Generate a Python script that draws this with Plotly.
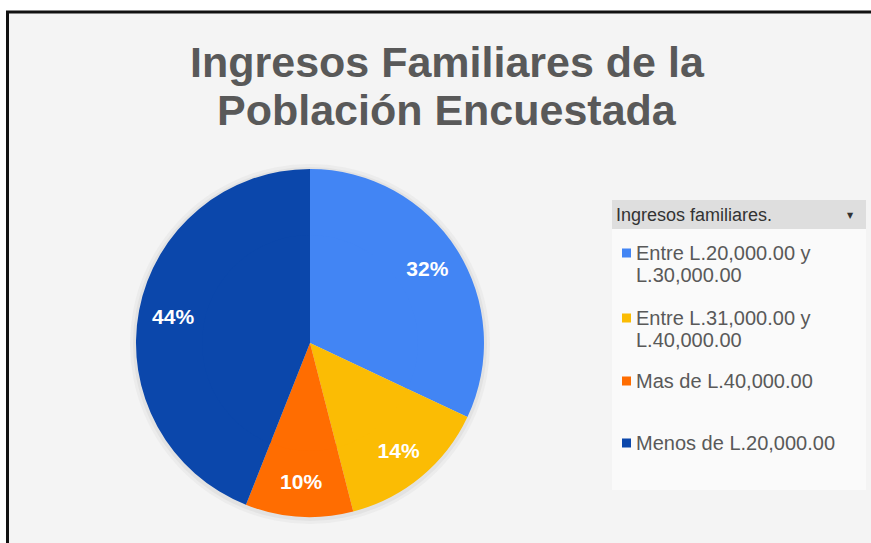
import plotly.graph_objects as go

categories = ["Entre L.20,000.00 y L.30,000.00",
              "Entre L.31,000.00 y L.40,000.00",
              "Mas de L.40,000.00",
              "Menos de L.20,000.00"]
legend_lines = [["Entre L.20,000.00 y", "L.30,000.00"],
                ["Entre L.31,000.00 y", "L.40,000.00"],
                ["Mas de L.40,000.00"],
                ["Menos de L.20,000.00"]]
values = [32, 14, 10, 44]
colors = ["#4285F4", "#FBBC04", "#FF6D01", "#0B47AB"]
title_lines = ["Ingresos Familiares de la", "Población Encuestada"]
legend_title = "Ingresos familiares."

W, H = 871, 543
def px(x): return x / W
def py(y): return 1 - y / H

FONT = "Liberation Sans, Arial, sans-serif"
CX, CY, R = 310, 343, 174
HOLE = 0.6

fig = go.Figure()
# outer ring carrying the labels
fig.add_trace(go.Pie(
    labels=categories, values=values, sort=False,
    direction="clockwise", rotation=0, hole=HOLE,
    marker=dict(colors=colors, line=dict(width=0)),
    texttemplate="%{percent:.0%}",
    textposition="inside",
    insidetextorientation="horizontal",
    textfont=dict(color="white", size=21, family=FONT, weight="bold"),
    domain=dict(x=[px(CX - R), px(CX + R)], y=[py(CY + R), py(CY - R)]),
    hoverinfo="label+percent", showlegend=False,
))
# inner fill of the same slices
r2 = R * (HOLE + 0.02)
fig.add_trace(go.Pie(
    labels=categories, values=values, sort=False,
    direction="clockwise", rotation=0,
    marker=dict(colors=colors, line=dict(width=0)),
    textinfo="none",
    domain=dict(x=[px(CX - r2), px(CX + r2)], y=[py(CY + r2), py(CY - r2)]),
    hoverinfo="label+percent", showlegend=False,
))

shapes = [
    dict(type="rect", xref="paper", yref="paper", x0=px(8), x1=1, y0=0, y1=py(12),
         fillcolor="#f4f4f4", line=dict(width=0), layer="below"),
    dict(type="line", xref="paper", yref="paper", x0=px(6), x1=1, y0=py(12), y1=py(12),
         line=dict(color="#111111", width=3)),
    dict(type="line", xref="paper", yref="paper", x0=px(7.5), x1=px(7.5), y0=0, y1=py(11),
         line=dict(color="#111111", width=3)),
    # soft shadow around the pie
    dict(type="circle", xref="paper", yref="paper",
         x0=px(CX - R - 6), x1=px(CX + R + 6), y0=py(CY + R + 7), y1=py(CY - R - 5),
         fillcolor="#ececec", line=dict(width=0), layer="below"),
    dict(type="circle", xref="paper", yref="paper",
         x0=px(CX - R - 3), x1=px(CX + R + 3), y0=py(CY + R + 4), y1=py(CY - R - 2),
         fillcolor="#e2e2e2", line=dict(width=0), layer="below"),
    # legend box
    dict(type="rect", xref="paper", yref="paper", x0=px(612), x1=px(866), y0=py(490), y1=py(200),
         fillcolor="#fafafa", line=dict(width=0), layer="below"),
    dict(type="rect", xref="paper", yref="paper", x0=px(612), x1=px(866), y0=py(229), y1=py(200),
         fillcolor="#dedede", line=dict(width=0), layer="below"),
]

annotations = []
for i, line in enumerate(title_lines):
    annotations.append(dict(text=line, x=px(447), y=py(62 + 48 * i), xref="paper", yref="paper",
                            xanchor="center", yanchor="middle", showarrow=False,
                            font=dict(family=FONT, size=43, color="#595959", weight="bold")))
annotations.append(dict(text=legend_title, x=px(614), y=py(215), xref="paper", yref="paper",
                        xanchor="left", yanchor="middle", showarrow=False,
                        font=dict(family=FONT, size=18, color="#333333")))
annotations.append(dict(text="▼", x=px(850), y=py(215), xref="paper", yref="paper",
                        xanchor="center", yanchor="middle", showarrow=False,
                        font=dict(family="DejaVu Sans", size=8, color="#333333")))

item_y = [253, 318, 381, 443]
for lines, col, y0 in zip(legend_lines, colors, item_y):
    shapes.append(dict(type="rect", xref="paper", yref="paper",
                       x0=px(622), x1=px(631), y0=py(y0 + 4.5), y1=py(y0 - 4.5),
                       fillcolor=col, line=dict(width=0)))
    for j, t in enumerate(lines):
        annotations.append(dict(text=t, x=px(634), y=py(y0 + 22 * j), xref="paper", yref="paper",
                                xanchor="left", yanchor="middle", showarrow=False,
                                font=dict(family=FONT, size=20, color="#595959")))

fig.update_layout(
    width=W, height=H,
    margin=dict(l=0, r=0, t=0, b=0),
    paper_bgcolor="white",
    plot_bgcolor="rgba(0,0,0,0)",
    showlegend=False,
    shapes=shapes,
    annotations=annotations,
)

fig.write_html("out.html", config={"displayModeBar": False},
               post_script="document.body.style.margin='0';")
